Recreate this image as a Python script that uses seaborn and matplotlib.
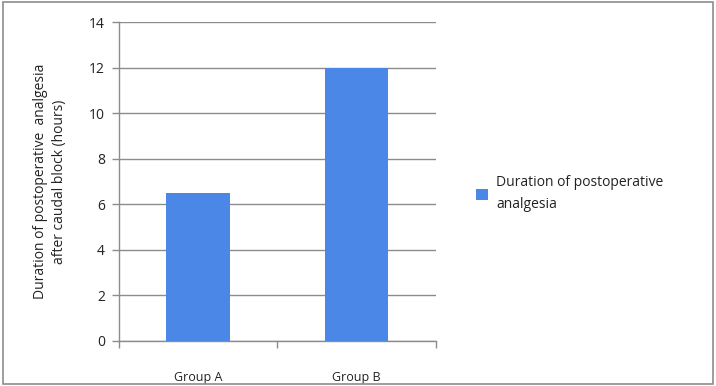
import matplotlib
matplotlib.use("Agg")
import matplotlib.pyplot as plt
import seaborn as sns
import pandas as pd
from matplotlib.patches import Rectangle, Patch

# Data
groups = ["Group A", "Group B"]
durations = [6.5, 12.0]
series_label = "Duration of postoperative\nanalgesia"

df = pd.DataFrame({"group": groups, "duration": durations})

sns.set_style("white")
plt.rcParams["font.family"] = ["Open Sans", "DejaVu Sans"]

fig = plt.figure(figsize=(7.16, 3.86), dpi=100)
ax = fig.add_axes([0.166, 0.117, 0.443, 0.826])

bar_color = "#4a87e6"
sns.barplot(data=df, x="group", y="duration", color=bar_color,
            width=0.4, saturation=1, ax=ax, zorder=3, linewidth=0)

ax.set_ylim(0, 14)
ax.set_xlim(-0.5, 1.5)
ax.set_yticks(range(0, 15, 2))
ax.grid(axis="y", color="#8c8c8c", linewidth=1, zorder=0)
ax.set_axisbelow(True)

for s in ["top", "right"]:
    ax.spines[s].set_visible(False)
for s in ["left", "bottom"]:
    ax.spines[s].set_color("#8c8c8c")
    ax.spines[s].set_linewidth(1)

ax.tick_params(axis="y", length=5, width=1, color="#8c8c8c",
               labelsize=10, labelcolor="#222222", left=True, pad=5)
ax.tick_params(axis="x", which="major", length=0, labelsize=9,
               labelcolor="#222222", pad=22)
ax.set_xticks([-0.5, 0.5, 1.5], minor=True)
ax.tick_params(axis="x", which="minor", length=5, width=1,
               color="#8c8c8c", bottom=True)

ax.set_xlabel("")
ax.set_ylabel("Duration of postoperative  analgesia\nafter caudal block (hours)",
              fontsize=10, color="#222222", labelpad=16, linespacing=1.35)

handle = Patch(facecolor=bar_color, edgecolor="none")
fig.legend([handle], [series_label], loc="upper left",
           bbox_to_anchor=(0.648, 0.578), frameon=False, fontsize=10,
           handlelength=0.8, handleheight=0.8, handletextpad=0.6,
           labelcolor="#222222", labelspacing=0.5)
for t in fig.legends[0].get_texts():
    t.set_linespacing(1.6)

# outer border of the chart area
fig.patches.append(Rectangle((0.004, 0.006), 0.992, 0.988,
                             transform=fig.transFigure, fill=False,
                             edgecolor="#8c8c8c", linewidth=1.2))

fig.savefig("out.png", dpi=100)
